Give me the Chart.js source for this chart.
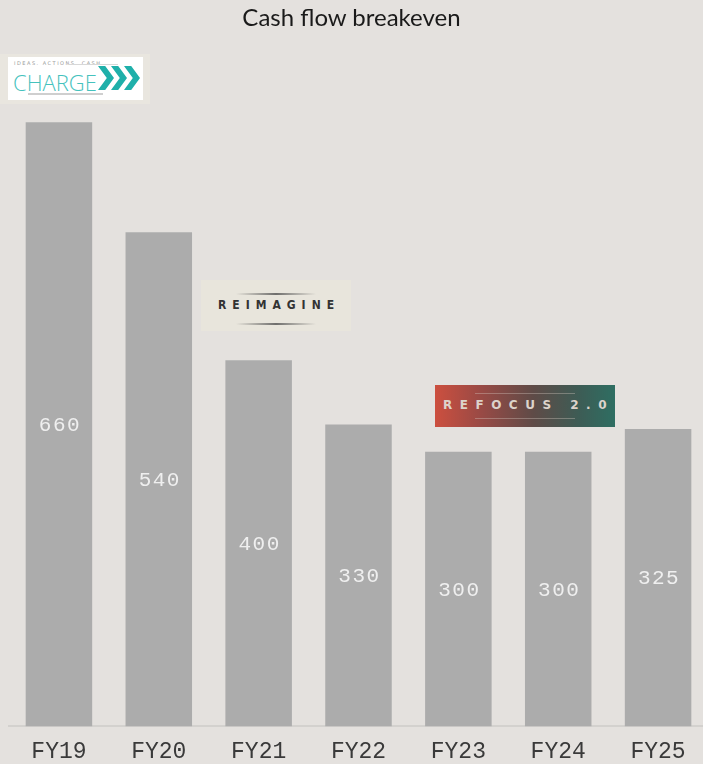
<!DOCTYPE html>
<html>
<head>
<meta charset="utf-8">
<script src="https://cdn.jsdelivr.net/npm/chart.js"></script>
<style>
  html, body { margin: 0; padding: 0; background: #e4e1de; overflow: hidden; }
  #wrap { position: relative; width: 710px; height: 764px; overflow: hidden; }
  #title { position: absolute; left: 0; top: 2px; width: 703px; text-align: center;
           font-family: Lato, sans-serif; font-size: 24px; color: #1a1a1a; }
  .logo { position: absolute; box-sizing: border-box; white-space: nowrap; }
  #charge { left: 0; top: 54px; width: 150px; height: 50px; background: #e9e6df; }
  #charge .inner { position: absolute; left: 8px; top: 3px; width: 135px; height: 43px; background: #fff; }
  #charge .tiny { position: absolute; left: 6px; top: 3px; font: 5px "DejaVu Sans", sans-serif; letter-spacing: 1.5px; color: #999; }
  #charge .word { position: absolute; left: 5px; top: 10px; font: 300 22px "Open Sans", sans-serif; color: #45c2bd; }
  #charge .chev { position: absolute; top: 9px; width: 16px; height: 24px; background: #1fb0aa;
                  clip-path: polygon(0 0, 45% 0, 100% 50%, 45% 100%, 0 100%, 55% 50%); }
  #charge .line { position: absolute; left: 20px; top: 36px; width: 75px; height: 2px; background: #cfcfcf; }
  #charge .line2 { position: absolute; left: 60px; top: 7px; width: 50px; height: 1px; background: #d8d8d8; }
  #reimagine { left: 201px; top: 280px; width: 150px; height: 51px; background: #e8e5dc; }
  #reimagine .txt { position: absolute; left: 0; width: 150px; top: 18px; text-align: center;
                    font: bold 12px "DejaVu Sans Condensed", "DejaVu Sans", sans-serif; letter-spacing: 6px; color: #333; padding-left: 6px; box-sizing: border-box; }
  #reimagine .l1, #reimagine .l2 { position: absolute; left: 35px; width: 80px; height: 2px;
                    background: linear-gradient(90deg, rgba(80,80,80,0), rgba(80,80,80,0.8), rgba(80,80,80,0)); }
  #reimagine .l1 { top: 13px; } #reimagine .l2 { top: 43px; }
  #refocus { left: 435px; top: 385px; width: 180px; height: 42px;
             background: linear-gradient(90deg, #cc4f3f 0%, #9a4a45 25%, #5e4b47 55%, #3d5c55 80%, #2e6e62 100%); }
  #refocus .txt { position: absolute; left: 0; width: 180px; top: 13px; text-align: center;
                  font: bold 12px "DejaVu Sans", sans-serif; letter-spacing: 7.5px; color: #ddd3cb; padding-left: 7px; box-sizing: border-box; }
  #refocus .l1 { position: absolute; left: 40px; top: 8px; width: 100px; height: 1px; background: rgba(220,210,200,0.35); }
  #refocus .l2 { position: absolute; left: 40px; top: 33px; width: 100px; height: 1px; background: rgba(220,210,200,0.35); }
</style>
</head>
<body>
<div id="wrap">
  <canvas id="myChart" width="710" height="778"></canvas>
  <div id="title">Cash flow breakeven</div>
  <div class="logo" id="charge">
    <div class="inner">
      <div class="tiny">IDEAS. ACTIONS. CASH.</div>
      <div class="line2"></div>
      <div class="word">CHARGE</div>
      <div class="chev" style="left:90px"></div>
      <div class="chev" style="left:103px"></div>
      <div class="chev" style="left:116px"></div>
      <div class="line"></div>
    </div>
  </div>
  <div class="logo" id="reimagine"><div class="l1"></div><div class="txt">REIMAGINE</div><div class="l2"></div></div>
  <div class="logo" id="refocus"><div class="l1"></div><div class="txt">REFOCUS 2.0</div><div class="l2"></div></div>
</div>

<script>
const labels = ['FY19', 'FY20', 'FY21', 'FY22', 'FY23', 'FY24', 'FY25'];
const values = [660, 540, 400, 330, 300, 300, 325];

// white value labels in the middle of each bar
const barLabels = {
  id: 'barLabels',
  afterDatasetsDraw(chart) {
    const ctx = chart.ctx;
    const meta = chart.getDatasetMeta(0);
    ctx.save();
    ctx.font = '21px "Liberation Mono", "Courier New", monospace';
    ctx.letterSpacing = '1.5px';
    ctx.fillStyle = '#efefef';
    ctx.textAlign = 'center';
    ctx.textBaseline = 'middle';
    meta.data.forEach(function (bar, i) {
      const p = bar.getCenterPoint();
      ctx.fillText(String(values[i]), p.x + 1, p.y + 1);
    });
    ctx.restore();
  }
};

const config = {
  type: 'bar',
  data: {
    labels: labels,
    datasets: [{
      data: values,
      backgroundColor: '#acacac',
      borderWidth: 0,
      barPercentage: 0.666,
      categoryPercentage: 1
    }]
  },
  options: {
    responsive: false,
    animation: false,
    layout: { padding: { top: 40, left: 9, right: 2, bottom: 0 } },
    plugins: { legend: { display: false }, tooltip: { enabled: false } },
    scales: {
      y: { display: false, min: 0, max: 750 },
      x: {
        grid: { display: false, drawTicks: false },
        border: { display: true, color: '#d3d1ce', width: 2 },
        ticks: {
          color: '#3a3a3a',
          padding: 12,
          font: { family: '"Liberation Mono", "Courier New", monospace', size: 23 }
        }
      }
    }
  },
  plugins: [barLabels]
};

var myChart = new Chart(document.getElementById('myChart'), config);
</script>
</body>
</html>
